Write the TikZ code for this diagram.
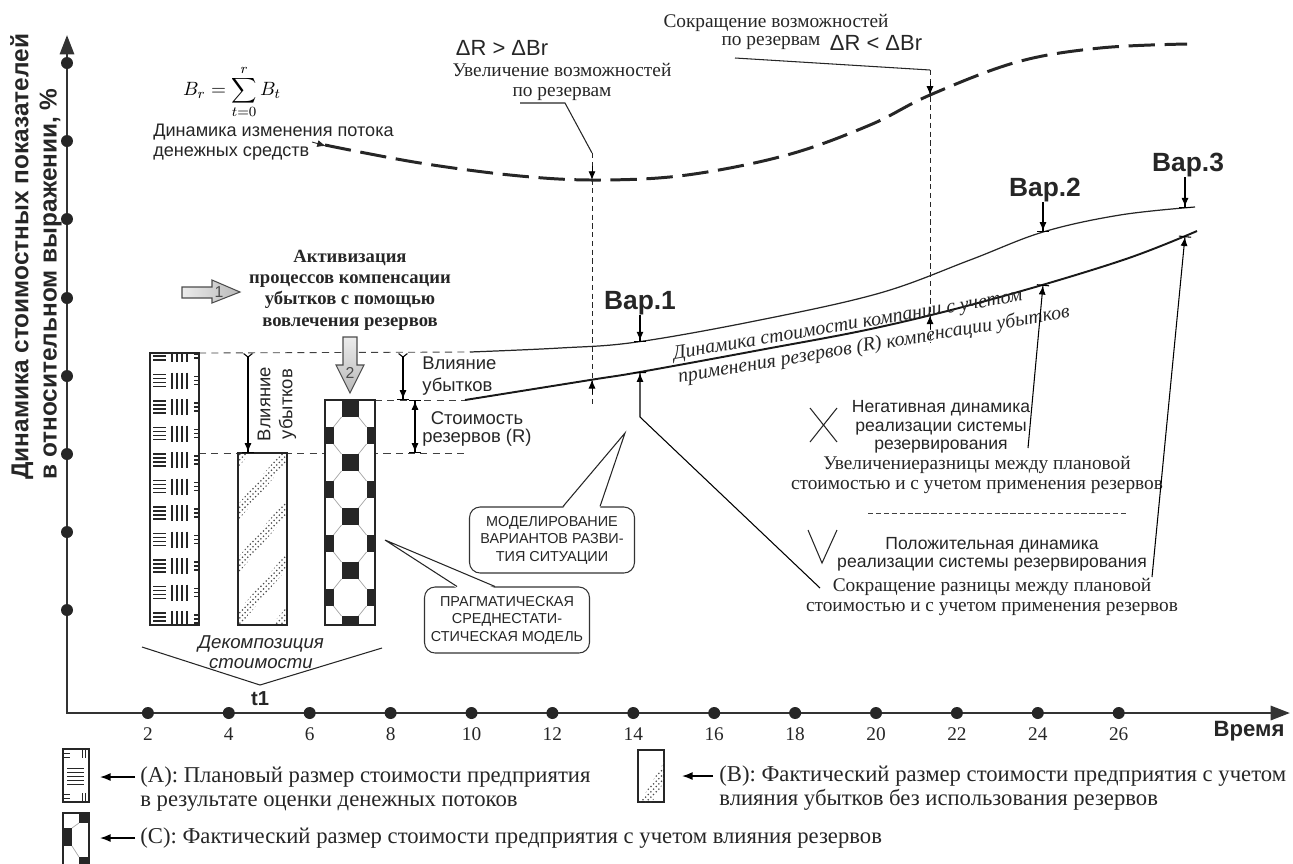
\documentclass[tikz,border=0pt]{standalone}
\usepackage{fontspec}
\setmainfont{Liberation Serif}
\setsansfont{Liberation Sans}
\usetikzlibrary{arrows.meta,patterns,intersections,calc}

\tikzset{
  axisline/.style={line width=1.6pt, draw=black!80},
  tickdot/.style={circle, fill=black!85, inner sep=0pt, minimum size=0.24cm},
  guide/.style={draw=black!75, line width=0.5pt, dash pattern=on 4pt off 3pt},
  vguide/.style={draw=black!85, line width=0.5pt, dash pattern=on 3pt off 2pt},
  leader/.style={draw=black!85, line width=0.6pt},
  brline/.style={draw=black!85, line width=1.7pt, dash pattern=on 15pt off 5.5pt},
  upline/.style={draw=black!85, line width=0.7pt},
  lowline/.style={draw=black!90, line width=1.1pt},
  tipdown/.style={-{Latex[length=5pt,width=4pt]}, line width=0.5pt},
  dimtip/.style={-{Latex[length=5pt,width=4pt]Bar[width=7pt]}, line width=0.6pt},
  dimY/.style={{Straight Barb[reversed,length=2pt,width=5pt]}-{Latex[length=5pt,width=4pt]Bar[width=7pt]}, line width=0.6pt},
  dimboth/.style={{Bar[width=7pt]Latex[length=5pt,width=4pt]}-{Latex[length=5pt,width=4pt]Bar[width=7pt]}, line width=0.6pt},
  legarrow/.style={-{Latex[length=6pt,width=4.5pt]}, line width=0.8pt},
  barframe/.style={draw=black!85, line width=1.2pt},
  hatch/.style={draw=black!85, line width=0.6pt},
  octline/.style={draw=black!35, line width=0.4pt},
  blockarrow/.style={draw=black!70, line width=0.6pt},
  callbox/.style={draw=black!80, line width=0.6pt, rounded corners=6pt, fill=white,
    font=\sffamily\fontsize{8.2}{10}\selectfont, align=center, inner sep=2pt,
    minimum width=3.3cm, minimum height=1.32cm, text=black!85},
  ylbl/.style={font=\sffamily\bfseries\fontsize{13.9}{16}\selectfont, inner sep=0pt, text=black!85},
  sansnote/.style={font=\sffamily\fontsize{10}{10.5}\selectfont, align=center, inner sep=0pt, text=black!85},
  sernote/.style={font=\fontsize{11}{11.3}\selectfont, align=center, inner sep=0pt, text=black!85},
  boldser/.style={font=\bfseries\fontsize{10.6}{12.1}\selectfont, align=center, inner sep=0pt, text=black!85},
  sansbig/.style={font=\sffamily\fontsize{12.5}{14}\selectfont, inner sep=0pt, text=black!85},
  varlbl/.style={font=\sffamily\bfseries\fontsize{15}{17}\selectfont, inner sep=0pt, text=black!85},
  curvetxt/.style={font=\itshape\fontsize{11.3}{13}\selectfont, inner sep=0pt, text=black!85},
  numlbl/.style={font=\fontsize{11}{12}\selectfont, inner sep=0pt, text=black!85},
  axlbl/.style={font=\sffamily\bfseries\fontsize{12.6}{14}\selectfont, inner sep=0pt, text=black!85},
  decomp/.style={font=\sffamily\itshape\fontsize{10.6}{11.3}\selectfont, align=center, inner sep=0pt, text=black!85},
  legtxt/.style={font=\fontsize{12.9}{13.6}\selectfont, align=left, anchor=west, inner sep=0pt, text=black!85},
  arrnum/.style={font=\sffamily\fontsize{9}{10}\selectfont, inner sep=0pt, text=black!70}
}

\begin{document}
\begin{tikzpicture}[x=0.02cm, y=-0.02cm]
\useasboundingbox (0,0) rectangle (1293,863);
\clip (0,0) rectangle (1293,863);

% axes
\draw[axisline, {Triangle[length=11pt,width=8pt]}-{Triangle[length=11pt,width=8pt]}] (67,35) -- (67,713) -- (1290,713);
\foreach \yy [count=\i] in {63,141,219,298,376,454,532,610}
  \node[tickdot] (yd\i) at (67,\yy) {};
\foreach \t in {2,4,...,26} {
  \node[tickdot] (xd\t) at ({67+40.45*\t},713) {};
  \node[numlbl] (xl\t) at ({67+40.45*\t},734) {\t};
}
\node[axlbl] (timelbl) at (1249,731) {Время};
\node[ylbl, rotate=90, anchor=west, align=left] (ylabel) at (36,480)
  {Динамика стоимостных показателей\\в относительном выражении, \%};

% cash flow curve
\node[font=\fontsize{11}{13}\selectfont, inner sep=0pt] (brformula) at (232,92) {$\displaystyle B_r=\sum_{t=0}^{r}B_t$};
\node[sansnote, align=left, anchor=west, font=\sffamily\fontsize{10.3}{11.3}\selectfont] (brnote) at (153,142)
  {Динамика изменения потока\\денежных средств};
\draw[brline, name path=brcurve] plot[smooth, tension=0.6] coordinates
  {(325,145) (420,163) (520,176) (600,180) (687,175) (787,155) (870,125) (930,95) (1017,62) (1100,48) (1187,44)};
\coordinate (brtail) at (312,142);
\coordinate (brstart) at (326,146);
\draw[leader, tipdown] (brtail) -- (brstart);

% value curves
\draw[guide] (199,353) -- (470,352);
\draw[guide] (199,453) -- (465,453);
\draw[guide] (375,400) -- (465,400);
\draw[upline, name path=upcurve] plot[smooth, tension=0.6] coordinates
  {(470,352) (560,348) (637,342) (760,320) (880,293) (970,260) (1043,232) (1120,215) (1195,207)};
\draw[lowline, name path=lowcurve] plot[smooth, tension=0.6] coordinates
  {(465,400) (590,380) (640,372) (760,350) (880,327) (1000,297) (1123,260) (1197,231)};

\foreach \vx/\vn in {592/a, 640/b, 930/c, 1043/d, 1185/e}
  \path[name path global=v\vn] (\vx,0) -- (\vx,713);
\path[name intersections={of=brcurve and va, by=brA}];
\path[name intersections={of=lowcurve and va, by=lowA}];
\path[name intersections={of=brcurve and vc, by=brC}];
\path[name intersections={of=lowcurve and vc, by=lowC}];
\path[name intersections={of=upcurve and vb, by=upB}];
\path[name intersections={of=lowcurve and vb, by=lowB}];
\path[name intersections={of=upcurve and vd, by=upD}];
\path[name intersections={of=lowcurve and vd, by=lowD}];
\path[name intersections={of=upcurve and ve, by=upE}];
\path[name intersections={of=lowcurve and ve, by=lowE}];

% reserve opportunities
\node[sansbig] (incdelta) at (502,48) {ΔR > ΔBr};
\node[sernote] (incnote) at (562,82) {Увеличение возможностей\\по резервам};
\coordinate (incstart) at (520,103);
\coordinate (incbend) at (565,103);
\coordinate (incfoot) at (592,153);
\draw[leader] (incstart) -- (incbend) -- (incfoot);
\draw[vguide] (incfoot) -- (592,405);
\draw[tipdown] ([yshift=8pt]brA) -- (brA);
\draw[tipdown] ([yshift=-8pt]lowA) -- (lowA);

\node[sernote] (decnote) at (776,23) {Сокращение возможностей};
\node[sernote] (decnote2) at (771,43) {по резервам};
\node[sansbig] (decdelta) at (876,43) {ΔR < ΔBr};
\coordinate (decstart) at (735,58);
\coordinate (decbend) at (930,70);
\draw[leader] (decstart) -- (decbend);
\draw[vguide] (decbend) -- (930,343);
\draw[tipdown] ([yshift=8pt]brC) -- (brC);
\draw[tipdown] ([yshift=-8pt]lowC) -- (lowC);

% variants
\node[varlbl] (var1) at (640,303) {Вар.1};
\node[varlbl] (var2) at (1045,190) {Вар.2};
\node[varlbl] (var3) at (1188,165) {Вар.3};
\draw[dimtip] (var1.south -| upB) -- (upB);
\draw[dimtip] (var2.south -| upD) -- (upD);
\draw[dimtip] (var3.south -| upE) -- (upE);

\node[curvetxt, rotate=9.5, anchor=west] (valtxt1) at (673,355) {Динамика стоимости компании с учетом};
\node[curvetxt, rotate=9.5, anchor=west] (valtxt2) at (678,378) {применения резервов (R) компенсации убытков};

% activation arrows
\shadedraw[blockarrow, left color=gray!15, right color=gray!55]
  (182,287) -- (212,287) -- (212,280) -- (240,292) -- (212,303) -- (212,298) -- (182,298) -- cycle;
\node[arrnum] (num1) at (219,292) {1};
\node[boldser] (activ) at (350,290) {Активизация\\процессов компенсации\\убытков с помощью\\вовлечения резервов};
\shadedraw[blockarrow, top color=gray!15, bottom color=gray!55]
  (343,337) -- (357,337) -- (357,365) -- (364,365) -- (350,393) -- (336,365) -- (343,365) -- cycle;
\node[arrnum] (num2) at (350,373) {2};

% bar A: planned value
\fill[white] (150,353) rectangle (199,625);
\begin{scope}
  \clip (150,353) rectangle (199,625);
  \foreach \k in {0,...,10} {
    \pgfmathsetmacro{\yc}{354+26.5*\k}
    \foreach \d in {-6,-2,2,6} {
      \draw[hatch] (153,{\yc+\d}) -- (166,{\yc+\d});
      \draw[hatch] ({179.5+1.25*\d},{\yc-8}) -- ({179.5+1.25*\d},{\yc+8});
    }
    \foreach \d in {-4,0,4}
      \draw[hatch] (194,{\yc+\d}) -- (199,{\yc+\d});
  }
\end{scope}
\draw[barframe] (150,353) rectangle (199,625);

% bar B: losses without reserves
\fill[white] (238,453) rectangle (287,625);
\begin{scope}
  \clip (238,453) rectangle (287,625);
  \foreach \yy in {462,515,568,622,676}
    \fill[pattern=crosshatch dots, pattern color=black!70]
      (236,{\yy-8}) -- (290,{\yy-73}) -- (290,{\yy-57}) -- (236,{\yy+8}) -- cycle;
\end{scope}
\draw[barframe] (238,453) rectangle (287,625);

% bar C: with reserves
\fill[white] (325,400) rectangle (375,625);
\begin{scope}
  \clip (325,400) rectangle (375,625);
  \foreach \k in {0,...,4} {
    \pgfmathsetmacro{\yt}{400+54*\k}
    \fill[black!85] (341.5,\yt) rectangle (358.5,{\yt+17});
    \fill[black!85] (325,{\yt+27}) rectangle (333.5,{\yt+44});
    \fill[black!85] (366.5,{\yt+27}) rectangle (375,{\yt+44});
    \draw[octline] (358.5,{\yt+17}) -- (366.5,{\yt+27})
                   (366.5,{\yt+44}) -- (358.5,{\yt+54})
                   (341.5,{\yt+54}) -- (333.5,{\yt+44})
                   (333.5,{\yt+27}) -- (341.5,{\yt+17});
  }
\end{scope}
\draw[barframe] (325,400) rectangle (375,625);

% dimensions
\draw[dimY] (248,353) -- (248,453);
\node[sansnote, rotate=90, font=\sffamily\fontsize{10.5}{12.5}\selectfont] (lossrot) at (277,404) {Влияние\\убытков};
\draw[dimY] (403,353) -- (403,400);
\node[sansnote, align=left, anchor=west, font=\sffamily\fontsize{10.5}{12.5}\selectfont] (lossnote) at (422,376) {Влияние\\убытков};
\draw[dimboth] (415,400) -- (415,453);
\node[sansnote, font=\sffamily\fontsize{10.5}{10.5}\selectfont] (resnote) at (477,429) {Стоимость\\резервов (R)};

% decomposition
\node[decomp] (decomp) at (261,652) {Декомпозиция\\стоимости};
\coordinate (decl) at (142,647);
\coordinate (decv) at (260,685);
\coordinate (decr) at (382,648);
\draw[leader] (decl) -- (decv) -- (decr);
\node[axlbl, font=\sffamily\bfseries\fontsize{11.5}{13}\selectfont] (t1) at (260,699) {t1};

% callouts
\node[callbox] (modbox) at (552,540) {МОДЕЛИРОВАНИЕ\\ВАРИАНТОВ РАЗВИ-\\ТИЯ СИТУАЦИИ};
\coordinate (modtip) at (625,433);
\coordinate (modb1) at ($(modbox.north)+(11,0)$);
\coordinate (modb2) at ($(modbox.north)+(48,0)$);
\fill[white] ([yshift=-1pt]modb1) -- (modtip) -- ([yshift=-1pt]modb2) -- cycle;
\draw[leader] (modb1) -- (modtip) -- (modb2);

\node[callbox] (pragbox) at (507,620) {ПРАГМАТИЧЕСКАЯ\\СРЕДНЕСТАТИ-\\СТИЧЕСКАЯ МОДЕЛЬ};
\coordinate (pragtip) at (385,540);
\coordinate (pragb1) at ($(pragbox.north)+(-50,0)$);
\coordinate (pragb2) at ($(pragbox.north)+(-12,0)$);
\fill[white] ([yshift=-1pt]pragb1) -- (pragtip) -- ([yshift=-1pt]pragb2) -- cycle;
\draw[leader] (pragb1) -- (pragtip) -- (pragb2);

% outcomes
\draw[leader] (810,408) -- (837,442) (837,408) -- (810,442);
\node[sansnote] (negnote) at (941,427) {Негативная динамика\\реализации системы\\резервирования};
\node[sernote] (negnote2) at (977,475) {Увеличениеразницы между плановой\\стоимостью и с учетом применения резервов};
\draw[guide, dash pattern=on 3pt off 1.5pt] (868,513) -- (1128,513);
\draw[leader] (808,530) -- (822,563) -- (837,530);
\node[sansnote] (posnote) at (992,554) {Положительная динамика\\реализации системы резервирования};
\node[sernote] (posnote2) at (992,597) {Сокращение разницы между плановой\\стоимостью и с учетом применения резервов};

\coordinate (var1foot) at (820,588);
\coordinate (var1bend) at (640,417);
\coordinate (var2foot) at (1028,448);
\coordinate (var3foot) at (1152,577);
\draw[dimtip] (var1foot) -- (var1bend) -- (lowB);
\draw[dimtip] (var2foot) -- (lowD);
\draw[dimtip] (var3foot) -- (lowE);

% legend
\draw[barframe, line width=0.9pt, fill=white] (63,749) rectangle (89,802);
\foreach \d in {768,772,776,780,784}
  \draw[hatch, line width=0.5pt] (67,\d) -- (84,\d);
\draw[hatch, line width=0.5pt] (63,753) -- (70,753) (63,757) -- (70,757) (63,794) -- (70,794) (63,798) -- (70,798)
  (82,749) -- (82,758) (85,749) -- (85,758) (82,793) -- (82,802) (85,793) -- (85,802);
\coordinate (legAtip) at (100,777);
\coordinate (legAtail) at (135,777);
\draw[legarrow] (legAtail) -- (legAtip);
\node[legtxt] (legA) at (140,789) {(A): Плановый размер стоимости предприятия\\в результате оценки денежных потоков};

\draw[barframe, line width=0.9pt, fill=white] (638,750) rectangle (664,802);
\begin{scope}
  \clip (638,750) rectangle (664,802);
  \fill[pattern=crosshatch dots, pattern color=black!70] (640,802) -- (664,762) -- (664,782) -- (652,802) -- cycle;
\end{scope}
\coordinate (legBtip) at (682,776);
\coordinate (legBtail) at (713,776);
\draw[legarrow] (legBtail) -- (legBtip);
\node[legtxt] (legB) at (719,788) {(B): Фактический размер стоимости предприятия с учетом\\влияния убытков без использования резервов};

\fill[white] (63,813) rectangle (89,870);
\fill[black!85] (79,813) rectangle (89,823);
\fill[black!85] (63,828) rectangle (72,846);
\fill[black!85] (79,857) rectangle (89,870);
\draw[octline] (72,828) -- (79,823) (72,846) -- (79,857);
\draw[barframe, line width=0.9pt] (63,813) rectangle (89,870);
\coordinate (legCtip) at (100,838);
\coordinate (legCtail) at (135,838);
\draw[legarrow] (legCtail) -- (legCtip);
\node[legtxt] (legC) at (140,838) {(C): Фактический размер стоимости предприятия с учетом влияния резервов};
\end{tikzpicture}
\end{document}
